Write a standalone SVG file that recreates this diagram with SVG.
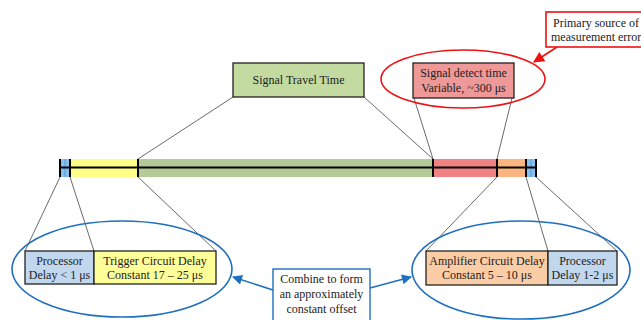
<svg xmlns="http://www.w3.org/2000/svg" width="641" height="320" viewBox="0 0 641 320">
<defs>
<style>
text{font-family:"Liberation Serif","Times New Roman",serif;font-size:12px;fill:#222;text-anchor:middle}
.box{stroke:#222;stroke-width:1.3}
.lead{stroke:#444;stroke-width:0.8;fill:none}
.sep{stroke:#000;stroke-width:2}
.bell{fill:none;stroke:#1f6fc0;stroke-width:1.6}
.rell{fill:none;stroke:#ee1111;stroke-width:1.6}
</style>
<marker id="ab" viewBox="0 0 10 10" refX="9" refY="5" markerWidth="12" markerHeight="10" markerUnits="userSpaceOnUse" orient="auto"><path d="M0,0L10,5L0,10z" fill="#1f6fc0"/></marker>
<marker id="ar" viewBox="0 0 10 10" refX="9" refY="5" markerWidth="13" markerHeight="11" markerUnits="userSpaceOnUse" orient="auto"><path d="M0,0L10,5L0,10z" fill="#ee1111"/></marker>
</defs>
<g id="bar">
<rect x="60" y="159" width="10" height="18" fill="#86c0ee"/>
<rect x="70" y="159" width="68" height="18" fill="#ffff88"/>
<rect x="138" y="159" width="295" height="18" fill="#b4ca98"/>
<rect x="433" y="159" width="64" height="18" fill="#ef8282"/>
<rect x="497" y="159" width="29" height="18" fill="#fdb57f"/>
<rect x="526" y="159" width="10" height="18" fill="#86c0ee"/>
<line x1="65" y1="159" x2="65" y2="177" stroke="#5a9ad8" stroke-width="1"/>
<line x1="531" y1="159" x2="531" y2="177" stroke="#5a9ad8" stroke-width="1"/>
<line x1="60" y1="167.5" x2="536" y2="167.5" class="sep"/>
<line x1="60" y1="159" x2="60" y2="177" class="sep"/>
<line x1="70" y1="159" x2="70" y2="177" class="sep"/>
<line x1="138" y1="159" x2="138" y2="177" class="sep"/>
<line x1="433" y1="159" x2="433" y2="177" class="sep"/>
<line x1="497" y1="159" x2="497" y2="177" class="sep"/>
<line x1="526" y1="159" x2="526" y2="177" class="sep"/>
<line x1="536" y1="159" x2="536" y2="177" class="sep"/>
</g>
<g id="connectors">
<line class="lead" x1="138" y1="159" x2="233" y2="97"/>
<line class="lead" x1="433" y1="159" x2="364" y2="97"/>
<line class="lead" x1="433" y1="159" x2="414" y2="98"/>
<line class="lead" x1="497" y1="159" x2="512" y2="98"/>
<line class="lead" x1="60" y1="177" x2="25" y2="251"/>
<line class="lead" x1="70" y1="177" x2="94" y2="251"/>
<line class="lead" x1="138" y1="177" x2="216" y2="251"/>
<line class="lead" x1="497" y1="177" x2="426" y2="251"/>
<line class="lead" x1="526" y1="177" x2="548" y2="251"/>
<line class="lead" x1="536" y1="177" x2="617" y2="251"/>
<line x1="273" y1="290" x2="233" y2="277" stroke="#1f6fc0" stroke-width="1.6" marker-end="url(#ab)"/>
<line x1="370" y1="288" x2="411" y2="277" stroke="#1f6fc0" stroke-width="1.6" marker-end="url(#ab)"/>
<line x1="557" y1="47" x2="534" y2="62" stroke="#ee1111" stroke-width="1.6" marker-end="url(#ar)"/>
</g>
<g id="travel">
<rect class="box" x="233" y="63" width="131" height="34" fill="#c3dba1"/>
<text x="298.5" y="84">Signal Travel Time</text>
</g>
<g id="detect">
<ellipse class="rell" cx="463" cy="79" rx="82" ry="29"/>
<rect class="box" x="413" y="63" width="101" height="35" fill="#ee9898"/>
<text x="463.5" y="77">Signal detect time</text>
<text x="463.5" y="92">Variable, ~300 μs</text>
</g>
<g id="primary">
<rect x="546" y="12" width="100" height="35" fill="#fff" stroke="#ee1111" stroke-width="1.6"/>
<text x="553" y="27" style="text-anchor:start">Primary source of</text>
<text x="551" y="41" style="text-anchor:start">measurement error</text>
</g>
<g id="left-group">
<ellipse class="bell" cx="122" cy="269" rx="110" ry="48"/>
<rect class="box" x="25" y="251" width="69" height="33" fill="#c0d7ee"/>
<text x="59.5" y="265">Processor</text>
<text x="59.5" y="279">Delay &lt; 1 μs</text>
<rect class="box" x="94" y="251" width="122" height="33" fill="#ffff99"/>
<text x="155" y="265">Trigger Circuit Delay</text>
<text x="155" y="279">Constant  17 – 25 μs</text>
</g>
<g id="right-group">
<ellipse class="bell" cx="521" cy="270" rx="109" ry="49"/>
<rect class="box" x="426" y="251" width="122" height="34" fill="#fbcda7"/>
<text x="487" y="265">Amplifier Circuit Delay</text>
<text x="487" y="279">Constant  5 – 10 μs</text>
<rect class="box" x="548" y="251" width="69" height="34" fill="#c0d7ee"/>
<text x="582.5" y="265">Processor</text>
<text x="582.5" y="279">Delay 1-2 μs</text>
</g>
<g id="combine">
<rect x="273" y="269" width="97" height="60" fill="#fff" stroke="#1f6fc0" stroke-width="1.4"/>
<text x="321.5" y="283">Combine to form</text>
<text x="321.5" y="298">an approximately</text>
<text x="321.5" y="313">constant  offset</text>
</g>
</svg>
